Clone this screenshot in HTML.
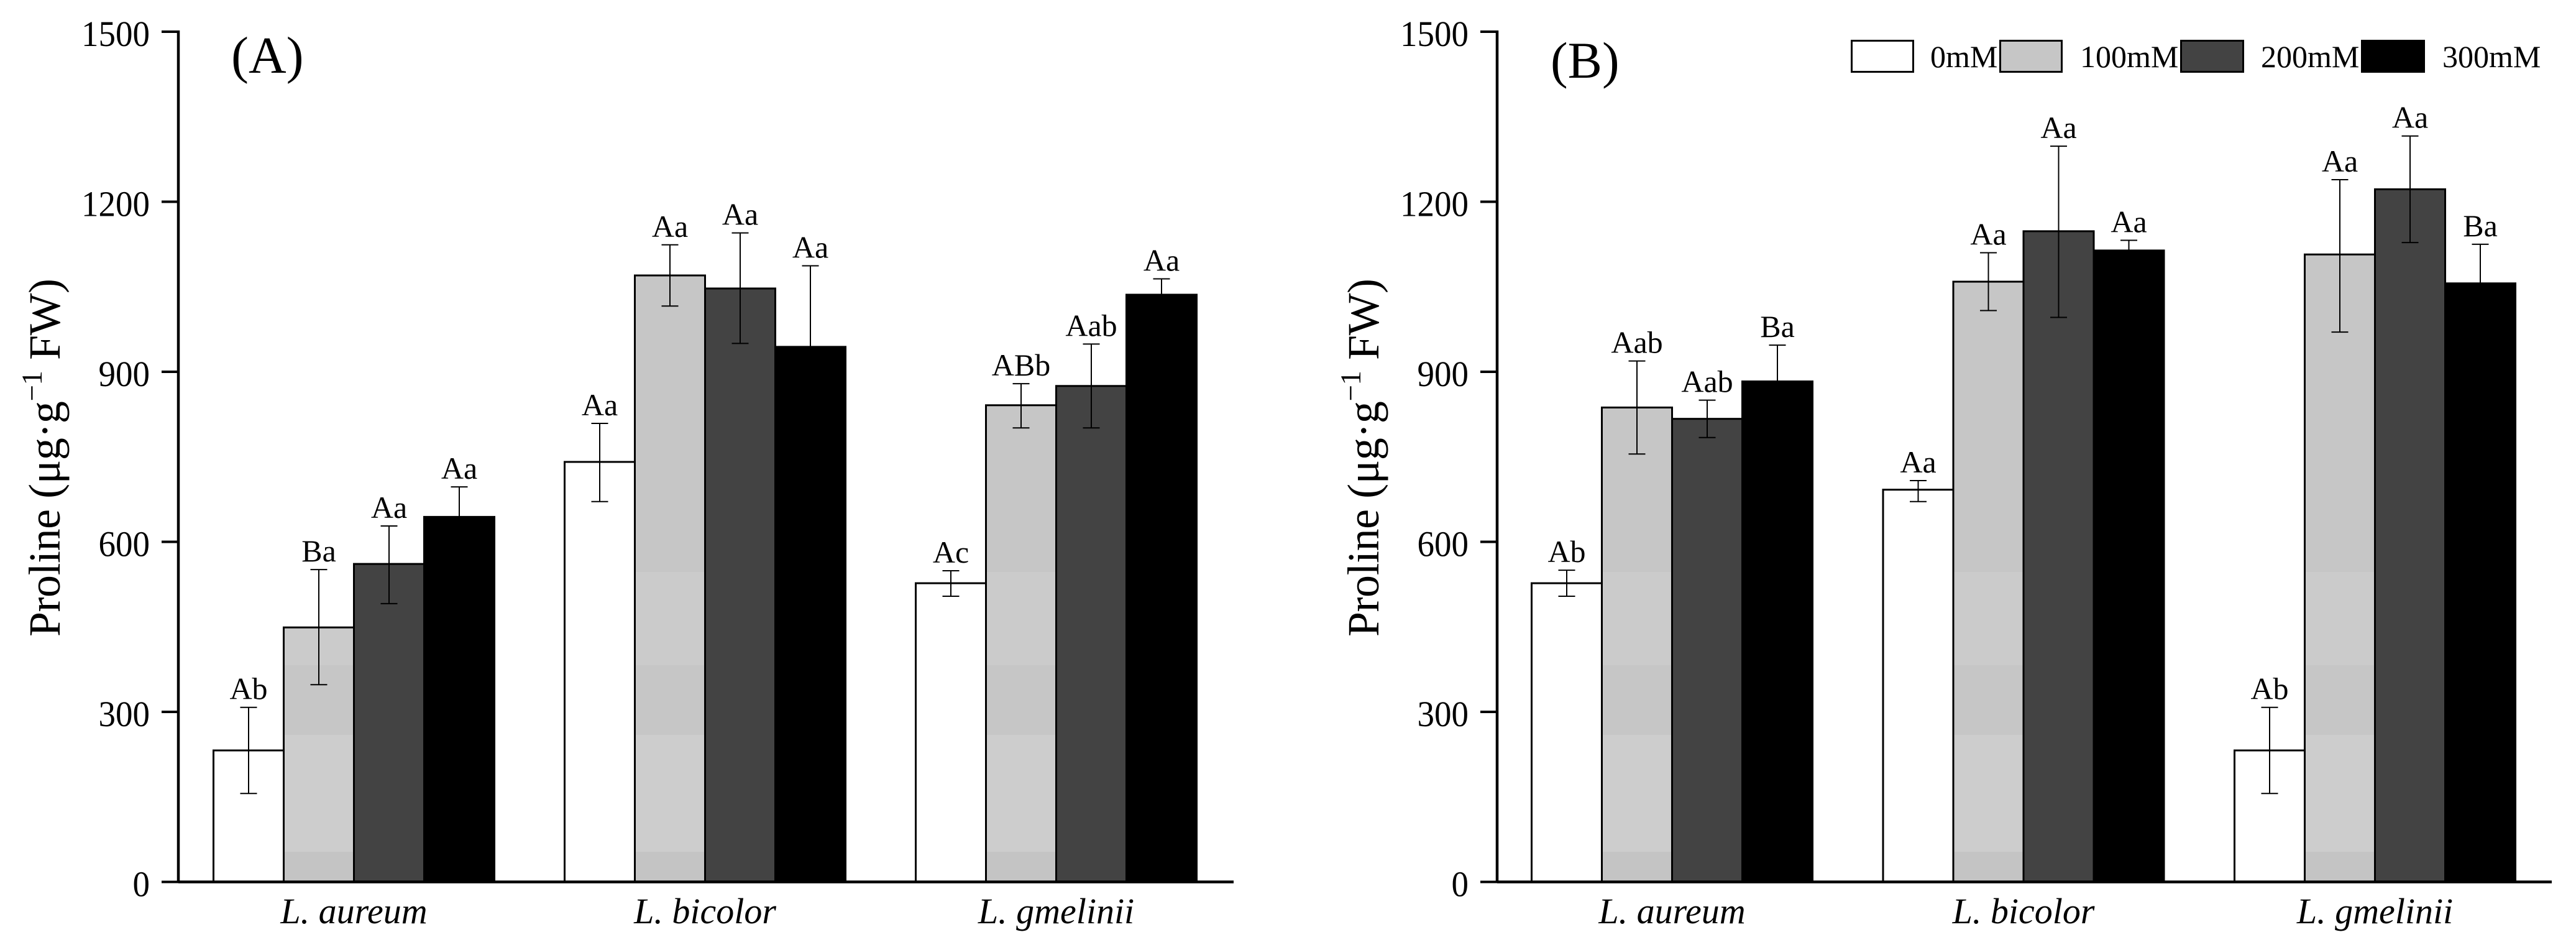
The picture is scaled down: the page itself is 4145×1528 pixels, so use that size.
<!DOCTYPE html>
<html lang="en">
<head>
<meta charset="utf-8">
<title>Proline content in Limonium species</title>
<style>
html,body{margin:0;padding:0;background:#fff;}
body{width:4145px;height:1528px;overflow:hidden;}
svg{display:block;}
text{font-family:"Liberation Serif",serif;fill:#000;}
</style>
</head>
<body>
<svg id="chart" xmlns="http://www.w3.org/2000/svg" width="4145" height="1528" viewBox="0 0 4145 1528">
  <defs>
    <linearGradient id="gray-bands" gradientUnits="userSpaceOnUse" x1="0" y1="0" x2="0" y2="1528">
      <stop offset="0" stop-color="#c6c6c6"/>
      <stop offset="0.6021" stop-color="#c6c6c6"/>
      <stop offset="0.6021" stop-color="#cbcbcb"/>
      <stop offset="0.7003" stop-color="#cbcbcb"/>
      <stop offset="0.7003" stop-color="#c6c6c6"/>
      <stop offset="0.7736" stop-color="#c6c6c6"/>
      <stop offset="0.7736" stop-color="#cdcdcd"/>
      <stop offset="0.8966" stop-color="#cdcdcd"/>
      <stop offset="0.8966" stop-color="#c4c4c4"/>
      <stop offset="1" stop-color="#c4c4c4"/>
    </linearGradient>
  </defs>

  <text x="372" y="117" font-size="84">(A)</text>
  <text x="2495" y="125" font-size="83">(B)</text>

  <text transform="translate(96,1024) rotate(-90)" font-size="72" textLength="576" lengthAdjust="spacing">Proline (μg·g<tspan dy="-29" font-size="47">−1</tspan><tspan dy="29"> FW)</tspan></text>
  <text transform="translate(2218,1024) rotate(-90)" font-size="72" textLength="576" lengthAdjust="spacing">Proline (μg·g<tspan dy="-29" font-size="47">−1</tspan><tspan dy="29"> FW)</tspan></text>

  <g>
    <g>
      <rect x="2979.5" y="65.5" width="99" height="50" fill="#fff" stroke="#000" stroke-width="3"/>
      <text x="3106" y="108" font-size="50">0mM</text>
    </g>
    <g>
      <rect x="3218.5" y="65.5" width="99" height="50" fill="#c6c6c6" stroke="#000" stroke-width="3"/>
      <text x="3347" y="108" font-size="50">100mM</text>
    </g>
    <g>
      <rect x="3509.5" y="65.5" width="100" height="50" fill="#434343" stroke="#000" stroke-width="3"/>
      <text x="3638" y="108" font-size="50">200mM</text>
    </g>
    <g>
      <rect x="3800.5" y="65.5" width="100" height="50" fill="#000" stroke="#000" stroke-width="3"/>
      <text x="3930" y="108" font-size="50">300mM</text>
    </g>
  </g>
</svg>

<script>
// ---------- shared chart data ----------
var categories = ["L. aureum", "L. bicolor", "L. gmelinii"];
var seriesNames = ["0mM", "100mM", "200mM", "300mM"];
var yTicks = [0, 300, 600, 900, 1200, 1500];

// ---------- panel A: one row per species, one value per treatment ----------
var meansA = [
  [232, 449, 561, 644],
  [741, 1070, 1047, 944],
  [527, 841, 875, 1036]
];
var upperA = [
  [308, 551, 628, 697],
  [809, 1124, 1145, 1087],
  [549, 879, 949, 1064]
];
var lowerA = [
  [156, 348, 491, 591],
  [671, 1016, 950, 801],
  [504, 801, 801, 1008]
];
var lettersA = [
  ["Ab", "Ba", "Aa", "Aa"],
  ["Aa", "Aa", "Aa", "Aa"],
  ["Ac", "ABb", "Aab", "Aa"]
];

// ---------- panel B ----------
var meansB = [
  [527, 837, 817, 883],
  [692, 1059, 1148, 1114],
  [232, 1107, 1222, 1056]
];
var upperB = [
  [550, 919, 850, 947],
  [708, 1110, 1298, 1132],
  [308, 1239, 1316, 1125]
];
var lowerB = [
  [504, 755, 784, 819],
  [671, 1008, 996, 1096],
  [156, 970, 1128, 987]
];
var lettersB = [
  ["Ab", "Aab", "Aab", "Ba"],
  ["Aa", "Aa", "Aa", "Aa"],
  ["Ab", "Aa", "Aa", "Ba"]
];

// ---------- drawing ----------
var svg = document.getElementById('chart');
var NS = 'http://www.w3.org/2000/svg';
var fills = ['#ffffff', 'url(#gray-bands)', '#434343', '#000000'];
var Y0 = 1418.5, Y_TOP = 51, Y_MAX = 1500;

function yScale(v) {
  return Y0 - (v / Y_MAX) * (Y0 - Y_TOP);
}
function slug(s) {
  return s.toLowerCase().replace(/[^a-z0-9]+/g, '-').replace(/^-|-$/g, '');
}
function line(parent, x1, y1, x2, y2, w) {
  var el = document.createElementNS(NS, 'line');
  el.setAttribute('x1', x1);
  el.setAttribute('y1', y1);
  el.setAttribute('x2', x2);
  el.setAttribute('y2', y2);
  el.setAttribute('stroke', '#000');
  el.setAttribute('stroke-width', w);
  parent.appendChild(el);
  return el;
}
function label(parent, str, x, y, size, anchor, italic) {
  var el = document.createElementNS(NS, 'text');
  el.setAttribute('x', x);
  el.setAttribute('y', y);
  el.setAttribute('font-size', size);
  el.setAttribute('text-anchor', anchor);
  if (italic) el.setAttribute('font-style', 'italic');
  el.textContent = str;
  parent.appendChild(el);
  return el;
}

function drawPanel(id, cfg, means, upper, lower, letters) {
  var barW = cfg.barW;
  function xScale(g, s) {
    return cfg.firstBar + g * cfg.groupStep + s * barW;
  }

  var g = document.createElementNS(NS, 'g');
  
  
  svg.appendChild(g);

  // bars
  means.forEach(function (row, gi) {
    row.forEach(function (v, si) {
      var r = document.createElementNS(NS, 'rect');
      
      
      r.setAttribute('x', xScale(gi, si));
      r.setAttribute('y', yScale(v));
      r.setAttribute('width', barW);
      r.setAttribute('height', Y0 - yScale(v));
      r.setAttribute('fill', fills[si]);
      r.setAttribute('stroke', '#000');
      r.setAttribute('stroke-width', '3');
      g.appendChild(r);
    });
  });

  // error bars and significance letters
  means.forEach(function (row, gi) {
    row.forEach(function (v, si) {
      var cx = xScale(gi, si) + barW / 2;
      var hi = yScale(upper[gi][si]);
      var lo = yScale(lower[gi][si]);
      var eg = document.createElementNS(NS, 'g');
      
      
      g.appendChild(eg);
      line(eg, cx, hi, cx, lo, 2);
      line(eg, cx - 13.5, hi, cx + 13.5, hi, 2);
      line(eg, cx - 13.5, lo, cx + 13.5, lo, 2);
      var t = label(g, letters[gi][si], cx, hi - 13, 50, 'middle', false);
      
      
    });
  });

  // axes
  var yAxis = line(g, cfg.axisX, Y_TOP - 2, cfg.axisX, Y0 + 2, 4.5);
  
  
  var xAxis = line(g, cfg.axisX, Y0, cfg.axisEnd, Y0, 4.5);
  
  

  // y ticks
  yTicks.forEach(function (v) {
    var y = yScale(v);
    var tick = line(g, cfg.axisX - 27, y, cfg.axisX, y, 4);
    
    
    var str = String(v);
    var t = label(g, str, cfg.axisX - 46, y + 23, 58, 'end', false);
    t.setAttribute('textLength', str.length * 27.5);
    t.setAttribute('lengthAdjust', 'spacingAndGlyphs');
    
    
  });

  // category labels
  categories.forEach(function (c, gi) {
    var cx = xScale(gi, 0) + 2 * barW;
    var t = label(g, c, cx, 1485, 58, 'middle', true);
    
    
  });
}

drawPanel('a', { axisX: 287, axisEnd: 1985, firstBar: 343.5, groupStep: 565, barW: 113 }, meansA, upperA, lowerA, lettersA);
drawPanel('b', { axisX: 2409, axisEnd: 4106, firstBar: 2464.5, groupStep: 565.5, barW: 113 }, meansB, upperB, lowerB, lettersB);
</script>
</body>
</html>
